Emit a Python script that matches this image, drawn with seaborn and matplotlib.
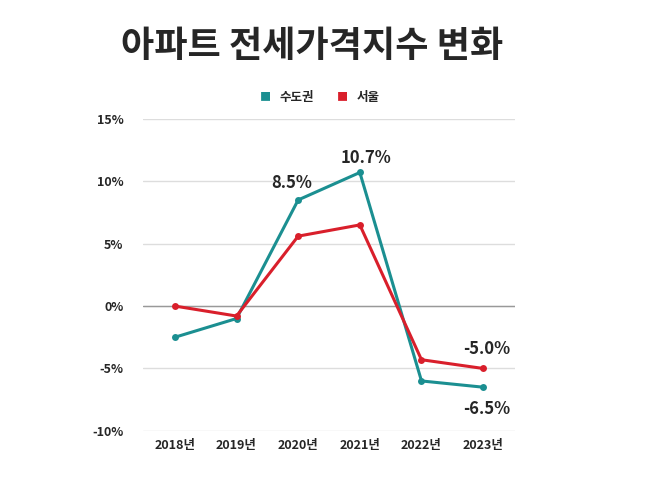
import pandas as pd
import seaborn as sns
import matplotlib.pyplot as plt

years = ['2018년', '2019년', '2020년', '2021년', '2022년', '2023년']
metro = [-2.5, -1.0, 8.5, 10.7, -6.0, -6.5]
seoul = [0.0, -0.8, 5.6, 6.5, -4.3, -5.0]

df = pd.DataFrame({
    'year': years * 2,
    'value': metro + seoul,
    'region': ['수도권'] * 6 + ['서울'] * 6,
})
df['x'] = list(range(6)) * 2

sns.set_style('white')
plt.rcParams['font.family'] = ['Noto Sans CJK KR', 'DejaVu Sans']

fig = plt.figure(figsize=(6.58, 4.93), dpi=100)
ax = fig.add_axes([0.217, 0.126, 0.566, 0.633])

palette = {'수도권': '#1b8f91', '서울': '#d91f2b'}
sns.lineplot(data=df, x='x', y='value', hue='region', palette=palette,
             marker='o', markersize=5, markeredgewidth=0, linewidth=2.2,
             ax=ax, legend=False)

ax.set_xlim(-0.52, 5.52)
ax.set_ylim(-10, 15)
ax.set_yticks([-10, -5, 0, 5, 10, 15])
ax.set_yticklabels(['-10%', '-5%', '0%', '5%', '10%', '15%'])
ax.set_xticks(range(6))
ax.set_xticklabels(years)
ax.tick_params(length=0, labelsize=9, pad=14)
for t in ax.get_xticklabels() + ax.get_yticklabels():
    t.set_fontweight('bold')
ax.tick_params(axis='x', pad=6)
ax.set_xlabel('')
ax.set_ylabel('')
for s in ax.spines.values():
    s.set_visible(False)
ax.grid(axis='y', color='#dddddd', linewidth=1)
ax.set_axisbelow(True)
ax.axhline(0, color='#999999', linewidth=1, zorder=1)

# labels
ax.text(1.9, 9.1, '8.5%', ha='center', va='bottom', fontsize=12, fontweight='bold')
ax.text(3.1, 11.1, '10.7%', ha='center', va='bottom', fontsize=12, fontweight='bold')
ax.text(5.05, -4.2, '-5.0%', ha='center', va='bottom', fontsize=12, fontweight='bold')
ax.text(5.05, -7.5, '-6.5%', ha='center', va='top', fontsize=12, fontweight='bold')

# legend
fig.text(0.403, 0.803, '■', color=palette['수도권'], fontsize=8, ha='center', va='center')
fig.text(0.425, 0.803, '수도권', fontsize=9, fontweight='bold', ha='left', va='center')
fig.text(0.520, 0.803, '■', color=palette['서울'], fontsize=8, ha='center', va='center')
fig.text(0.542, 0.803, '서울', fontsize=9, fontweight='bold', ha='left', va='center')

fig.text(0.475, 0.905, '아파트 전세가격지수 변화', fontsize=26, fontweight='bold',
         ha='center', va='center')

fig.savefig('out.png', dpi=100)
